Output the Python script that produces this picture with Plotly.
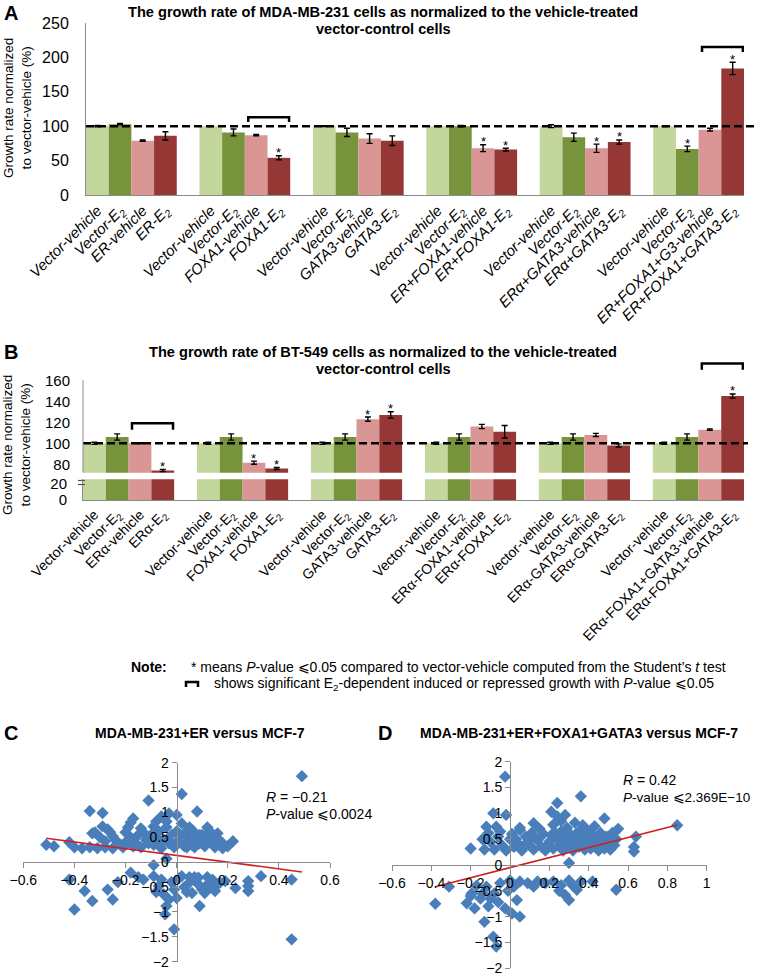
import plotly.graph_objects as go

W, H = 761, 978
FONT = "Arial, Liberation Sans, sans-serif"
AXC = "#8c8c8c"
BAR_COLORS = ["#c3d69b", "#77933c", "#d99694", "#953735"]

# ---------------- Panel A data ----------------
a_labels = [
    "Vector-vehicle", "Vector-E<sub>2</sub>", "ER-vehicle", "ER-E<sub>2</sub>",
    "Vector-vehicle", "Vector-E<sub>2</sub>", "FOXA1-vehicle", "FOXA1-E<sub>2</sub>",
    "Vector-vehicle", "Vector-E<sub>2</sub>", "GATA3-vehicle", "GATA3-E<sub>2</sub>",
    "Vector-vehicle", "Vector-E<sub>2</sub>", "ER+FOXA1-vehicle", "ER+FOXA1-E<sub>2</sub>",
    "Vector-vehicle", "Vector-E<sub>2</sub>", "ERα+GATA3-vehicle", "ERα+GATA3-E<sub>2</sub>",
    "Vector-vehicle", "Vector-E<sub>2</sub>", "ER+FOXA1+G3-vehicle", "ER+FOXA1+GATA3-E<sub>2</sub>",
]
a_values = [100, 103, 79, 86,
            100, 91, 87, 54,
            100, 91, 82, 79,
            100, 100, 68, 66,
            100, 84, 68, 77,
            100, 67, 95, 184]
a_errors = [1, 1, 1, 6,
            0.6, 5, 1, 3,
            0.6, 6, 7, 7,
            0.6, 1, 5, 2,
            2, 6, 6, 3,
            0.6, 4, 2, 9]
a_sig = [0, 0, 0, 0,
         0, 0, 0, 1,
         0, 0, 0, 0,
         0, 0, 1, 1,
         0, 0, 1, 1,
         0, 1, 0, 1]
a_bracket_groups = [1, 5]
a_bracket_levels = [113, 215]

# ---------------- Panel B data ----------------
b_labels = [
    "Vector-vehicle", "Vector-E<sub>2</sub>", "ERα-vehicle", "ERα-E<sub>2</sub>",
    "Vector-vehicle", "Vector-E<sub>2</sub>", "FOXA1-vehicle", "FOXA1-E<sub>2</sub>",
    "Vector-vehicle", "Vector-E<sub>2</sub>", "GATA3-vehicle", "GATA3-E<sub>2</sub>",
    "Vector-vehicle", "Vector-E<sub>2</sub>", "ERα-FOXA1-vehicle", "ERα-FOXA1-E<sub>2</sub>",
    "Vector-vehicle", "Vector-E<sub>2</sub>", "ERα-GATA3-vehicle", "ERα-GATA3-E<sub>2</sub>",
    "Vector-vehicle", "Vector-E<sub>2</sub>", "ERα-FOXA1+GATA3-vehicle", "ERα-FOXA1+GATA3-E<sub>2</sub>",
]
b_values = [100, 106, 100, 74,
            100, 106, 81.5, 76,
            100, 106, 123, 127,
            100, 106, 116, 111,
            100, 106, 108, 98,
            100, 106, 113, 145]
b_errors = [1, 3, 0.5, 1,
            1, 3, 1.5, 1,
            1, 3, 2, 3,
            1, 3, 2, 6,
            1, 3, 1.5, 1.5,
            1, 3, 0.7, 2]
b_sig = [0, 0, 0, 1,
         0, 0, 1, 1,
         0, 0, 1, 1,
         0, 0, 0, 0,
         0, 0, 0, 0,
         0, 0, 0, 1]
b_bracket_groups = [0, 5]
b_bracket_levels = [119, 176]

# ---------------- Panel C data ----------------
c_points = [
    (0.49, 1.73), (0.02, 1.37), (-0.11, 1.24), (-0.34, 1.03), (-0.29, 0.99), (0.08, 1.02),
    (-0.03, 0.98), (0.0, 0.95), (-0.17, 0.88), (-0.06, 0.92), (-0.08, 0.82), (0.12, 0.70),
    (-0.29, 0.72), (-0.32, 0.60), (-0.27, 0.66), (-0.18, 0.80), (-0.25, 0.52), (-0.20, 0.60),
    (-0.14, 0.68), (0.05, 0.70), (0.16, 0.58), (0.22, 0.42), (0.20, 0.32), (0.18, 0.28),
    (-0.51, 0.35), (-0.48, 0.32), (-0.42, 0.40), (-0.40, 0.30), (-0.37, 0.28), (-0.34, 0.30),
    (-0.31, 0.28), (-0.28, 0.30), (-0.25, 0.28), (-0.22, 0.35), (-0.33, 0.58), (-0.30, 0.50),
    (-0.28, 0.42), (-0.24, 0.45), (-0.20, 0.40), (-0.18, 0.50), (-0.16, 0.38), (-0.14, 0.30),
    (-0.12, 0.45), (-0.10, 0.55), (-0.09, 0.35), (-0.07, 0.62), (-0.06, 0.28), (-0.05, 0.45),
    (-0.04, 0.70), (-0.03, 0.38), (-0.02, 0.55), (-0.01, 0.30), (0.00, 0.62), (0.01, 0.42),
    (0.02, 0.78), (0.03, 0.32), (0.04, 0.52), (0.05, 0.40), (0.06, 0.65), (0.07, 0.30),
    (0.08, 0.48), (0.09, 0.38), (0.10, 0.55), (0.11, 0.32), (0.12, 0.45), (0.13, 0.62),
    (0.14, 0.40), (0.15, 0.30), (0.16, 0.48), (0.18, 0.38), (-0.13, 0.60), (-0.15, 0.55),
    (-0.11, 0.38), (-0.08, 0.50), (-0.02, 0.40), (0.03, 0.58), (0.06, 0.35), (0.09, 0.55),
    (0.11, 0.50), (-0.21, 0.30), (-0.17, 0.32), (-0.06, 0.40), (0.0, 0.35), (0.04, 0.30),
    (0.14, 0.55), (-0.26, 0.60), (-0.19, 0.70), (-0.09, 0.72), (-0.04, 0.82), (0.07, 0.58),
    (0.01, 0.50),
    (-0.09, -0.06), (-0.04, 0.07),
    (-0.42, -0.35), (-0.36, -0.58), (-0.40, -0.95), (-0.33, -0.78), (-0.27, -0.55), (-0.25, -0.75),
    (-0.23, -0.40), (-0.18, -0.21), (-0.13, -0.35), (-0.09, -0.28), (-0.07, -0.48), (-0.05, -0.65),
    (-0.04, -0.88), (-0.045, -1.05), (-0.01, -1.35), (-0.03, -0.75), (0.0, -0.72), (0.02, -0.28),
    (0.05, -0.41), (0.06, -0.62), (0.085, -0.31), (0.09, -0.88), (0.10, -0.55), (0.12, -0.45),
    (0.14, -0.35), (0.15, -0.58), (0.17, -0.41), (0.19, -0.38), (0.23, -0.52), (0.28, -0.38),
    (0.28, -0.58), (0.28, -0.48), (0.33, -0.28), (0.45, -0.35), (0.45, -1.55), (-0.02, -0.40),
    (-0.06, -0.35), (0.03, -0.50), (0.07, -0.30), (0.11, -0.62), (0.13, -0.50), (0.04, -0.60),
    (-0.08, -0.60), (-0.01, -0.55), (0.16, -0.45), (0.08, -0.42), (-0.15, -0.30), (0.01, -0.32),
    (0.05, -0.30), (0.12, -0.30),
]
c_x = [p[0] for p in c_points]
c_y = [p[1] for p in c_points]
c_trend_x = [-0.51, 0.49]
c_trend_y = [0.48, -0.195]

# ---------------- Panel D data ----------------
d_points = [
    (-0.025, 1.71), (0.36, 1.33), (0.24, 1.20), (-0.085, 1.0), (-0.02, 0.97), (-0.12, 0.74),
    (-0.07, 0.74), (0.12, 0.81), (0.21, 1.03), (0.24, 0.94), (0.28, 0.97), (0.48, 0.90),
    (0.37, 0.77), (0.85, 0.77), (0.55, 0.70), (0.64, 0.55), (-0.20, 0.32), (0.63, 0.35),
    (0.63, 0.26), (0.30, 0.04),
    (-0.13, 0.30), (-0.10, 0.45), (-0.08, 0.30), (-0.06, 0.55), (-0.04, 0.38), (-0.02, 0.28),
    (0.0, 0.50), (0.02, 0.35), (0.04, 0.42), (0.06, 0.28), (0.08, 0.55), (0.10, 0.38),
    (0.11, 0.62), (0.12, 0.30), (0.14, 0.48), (0.16, 0.35), (0.17, 0.60), (0.18, 0.28),
    (0.20, 0.45), (0.21, 0.58), (0.22, 0.32), (0.24, 0.50), (0.25, 0.38), (0.26, 0.65),
    (0.27, 0.28), (0.28, 0.45), (0.29, 0.72), (0.30, 0.35), (0.31, 0.55), (0.32, 0.28),
    (0.33, 0.48), (0.34, 0.62), (0.35, 0.35), (0.36, 0.42), (0.37, 0.55), (0.38, 0.30),
    (0.39, 0.68), (0.40, 0.45), (0.41, 0.32), (0.42, 0.58), (0.43, 0.38), (0.44, 0.50),
    (0.45, 0.28), (0.46, 0.62), (0.47, 0.40), (0.48, 0.32), (0.49, 0.55), (0.50, 0.45),
    (0.51, 0.30), (0.52, 0.62), (0.54, 0.50), (0.53, 0.38), (-0.11, 0.62), (-0.05, 0.65),
    (0.01, 0.60), (0.05, 0.68), (0.09, 0.45), (0.13, 0.52), (0.15, 0.70), (0.19, 0.38),
    (0.23, 0.62), (0.27, 0.52), (0.30, 0.62), (0.33, 0.38), (0.36, 0.68), (0.40, 0.58),
    (0.44, 0.35), (0.47, 0.55), (0.03, 0.50), (0.07, 0.35), (-0.14, 0.50), (0.22, 0.78),
    (0.33, 0.82), (0.43, 0.75), (0.26, 0.85), (0.05, 0.72),
    (-0.38, -0.75), (-0.31, -0.42), (-0.22, -0.74), (-0.195, -0.55), (-0.18, -0.84), (-0.15, -0.65),
    (-0.12, -0.42), (-0.10, -0.65), (-0.13, -1.10), (-0.085, -1.39), (-0.07, -1.58), (-0.025, -0.84),
    (0.01, -0.94), (0.05, -1.00), (0.035, -0.68), (-0.01, -0.50), (0.05, -0.32), (0.09, -0.35),
    (0.14, -0.32), (0.18, -0.35), (0.22, -0.32), (0.26, -0.39), (0.30, -0.68), (0.34, -0.48),
    (0.36, -0.32), (0.42, -0.32), (0.54, -0.48), (0.28, -0.58), (0.32, -0.40), (-0.17, -0.40),
    (-0.14, -0.55), (-0.05, -0.35), (-0.08, -0.55), (0.0, -0.30), (0.02, -0.42), (0.12, -0.42),
    (0.25, -0.50), (0.30, -0.30), (-0.20, -0.60), (-0.11, -0.80), (-0.06, -0.72),
]
d_x = [p[0] for p in d_points]
d_y = [p[1] for p in d_points]
d_trend_x = [-0.38, 0.85]
d_trend_y = [-0.42, 0.775]

# ---------------- helpers ----------------
def px(x):
    return x / W

def py(y):
    return 1 - y / H

N_GROUPS, N_BARS = 6, 4
slots = [g * (N_BARS + 1) + b for g in range(N_GROUPS) for b in range(N_BARS)]
colors = [BAR_COLORS[b] for g in range(N_GROUPS) for b in range(N_BARS)]
XR = [-0.5, N_GROUPS * (N_BARS + 1) - 1.5]

fig = go.Figure()

# Panel A bars
fig.add_trace(go.Bar(
    x=slots, y=a_values, width=1.0, marker=dict(color=colors, line=dict(width=0)),
    error_y=dict(type="data", array=a_errors, color="black", thickness=1.4, width=3),
    xaxis="x", yaxis="y", hoverinfo="skip"))

# Panel B bars (top segment with error bars, bottom segment)
fig.add_trace(go.Bar(
    x=slots, y=b_values, width=1.0, marker=dict(color=colors, line=dict(width=0)),
    error_y=dict(type="data", array=b_errors, color="black", thickness=1.4, width=3),
    xaxis="x3", yaxis="y2", hoverinfo="skip"))
fig.add_trace(go.Bar(
    x=slots, y=b_values, width=1.0, marker=dict(color=colors, line=dict(width=0)),
    xaxis="x2", yaxis="y3", hoverinfo="skip"))

# Panel C
fig.add_trace(go.Scatter(x=c_x, y=c_y, mode="markers", xaxis="x4", yaxis="y4",
                         marker=dict(symbol="diamond", size=9.5, color="#4a7ebb", line=dict(width=0))))
fig.add_trace(go.Scatter(x=c_trend_x, y=c_trend_y, mode="lines", xaxis="x4", yaxis="y4",
                         line=dict(color="#d01f1f", width=1.5)))
# Panel D
fig.add_trace(go.Scatter(x=d_x, y=d_y, mode="markers", xaxis="x5", yaxis="y5",
                         marker=dict(symbol="diamond", size=9.5, color="#4a7ebb", line=dict(width=0))))
fig.add_trace(go.Scatter(x=d_trend_x, y=d_trend_y, mode="lines", xaxis="x5", yaxis="y5",
                         line=dict(color="#d01f1f", width=1.5)))

a_tickfont = dict(family=FONT, size=15, color="black")
b_tickfont = dict(family=FONT, size=14, color="black")
s_tickfont = dict(family=FONT, size=14, color="black")

B_TOP_PX, B_TOP_BOTTOM_PX = 355, 472.7
B_PX_PER_UNIT = 1.05
b_top_range = [72, 72 + (B_TOP_BOTTOM_PX - B_TOP_PX) / B_PX_PER_UNIT]

common = dict(automargin=False, showgrid=False, zeroline=False)

fig.update_layout(
    template="none",
    width=W, height=H, margin=dict(l=0, r=0, t=0, b=0, autoexpand=False),
    paper_bgcolor="white", plot_bgcolor="white", showlegend=False,
    font=dict(family=FONT, color="black"),
    xaxis=dict(domain=[px(86), px(744)], anchor="y", range=XR, tickmode="array",
               tickvals=slots, ticktext=[f"<i>{t}</i>" for t in a_labels], tickangle=-45,
               tickfont=a_tickfont, showline=True, linecolor=AXC, linewidth=1, ticks="", **common),
    yaxis=dict(domain=[py(195), py(23)], anchor="x", range=[0, 250], tickmode="array",
               tickvals=[0, 50, 100, 150, 200, 250], tickfont=dict(family=FONT, size=16, color="black"),
               showline=True, linecolor=AXC, linewidth=1, ticks="", ticklabelstandoff=13, **common),
    xaxis2=dict(domain=[px(83), px(744)], anchor="y3", range=XR, tickmode="array",
                tickvals=slots, ticktext=b_labels, tickangle=-45, tickfont=b_tickfont,
                showline=True, linecolor=AXC, linewidth=1, ticks="", **common),
    xaxis3=dict(domain=[px(83), px(744)], anchor="y2", range=XR, visible=False, **common),
    yaxis2=dict(domain=[py(B_TOP_BOTTOM_PX), py(B_TOP_PX)], anchor="x3", range=b_top_range,
                tickmode="array", tickvals=[80, 100, 120, 140, 160],
                tickfont=dict(family=FONT, size=15, color="black"),
                showline=False, ticks="", ticklabelstandoff=12, **common),
    yaxis3=dict(domain=[py(500), py(479.3)], anchor="x2", range=[0, 25], tickmode="array",
                tickvals=[0, 20], tickfont=dict(family=FONT, size=15, color="black"),
                showline=True, linecolor=AXC, ticks="", ticklabelstandoff=12, **common),
    xaxis4=dict(domain=[px(23.3), px(330)], range=[-0.6, 0.6], anchor="free", position=py(862),
                tickmode="array", tickvals=[-0.6, -0.4, -0.2, 0, 0.2, 0.4, 0.6],
                tickfont=s_tickfont, showline=True, linecolor=AXC, ticks="outside", ticklen=5,
                tickcolor=AXC, **common),
    yaxis4=dict(domain=[py(961.7), py(762.7)], range=[-2, 2], anchor="free", position=px(176.7),
                tickmode="array", tickvals=[-2, -1.5, -1, -0.5, 0, 0.5, 1, 1.5, 2],
                tickfont=s_tickfont, showline=True, linecolor=AXC, ticks="outside", ticklen=5,
                tickcolor=AXC, **common),
    xaxis5=dict(domain=[px(392), px(706.7)], range=[-0.6, 1], anchor="free", position=py(865),
                tickmode="array", tickvals=[-0.6, -0.4, -0.2, 0, 0.2, 0.4, 0.6, 0.8, 1],
                tickfont=s_tickfont, showline=True, linecolor=AXC, ticks="outside", ticklen=5,
                tickcolor=AXC, **common),
    yaxis5=dict(domain=[py(968.3), py(761.7)], range=[-2, 2], anchor="free", position=px(510),
                tickmode="array", tickvals=[-2, -1.5, -1, -0.5, 0, 0.5, 1, 1.5, 2],
                tickfont=s_tickfont, showline=True, linecolor=AXC, ticks="outside", ticklen=5,
                tickcolor=AXC, **common),
)

shapes = []
# dashed reference lines at 100
shapes.append(dict(type="line", xref="paper", yref="y", x0=px(86), x1=px(757), y0=100, y1=100,
                   line=dict(color="black", width=2.5, dash="8px,4px")))
shapes.append(dict(type="line", xref="paper", yref="y2", x0=px(83), x1=px(748), y0=100, y1=100,
                   line=dict(color="black", width=2.5, dash="8px,4px")))
# B top axis line
shapes.append(dict(type="line", xref="paper", yref="y2", x0=px(83), x1=px(83), y0=72, y1=160,
                   line=dict(color=AXC, width=1)))
# axis break marks
for yy in (480.5, 484.5):
    shapes.append(dict(type="line", xref="paper", yref="paper", x0=px(78), x1=px(85),
                       y0=py(yy), y1=py(yy), line=dict(color="#555", width=1.2)))

# brackets
def bracket(xref, yref, g, level, leg):
    x0 = g * (N_BARS + 1) + 1.65
    x1 = g * (N_BARS + 1) + 3.45
    return dict(type="path", xref=xref, yref=yref,
                path=f"M {x0},{level - leg} L {x0},{level} L {x1},{level} L {x1},{level - leg}",
                line=dict(color="black", width=2.5))

for g, lv in zip(a_bracket_groups, a_bracket_levels):
    shapes.append(bracket("x", "y", g, lv, 7))
for g, lv in zip(b_bracket_groups, b_bracket_levels):
    shapes.append(bracket("x3", "y2", g, lv, 6))

# note bracket glyph
shapes.append(dict(type="path", xref="paper", yref="paper",
                   path=f"M {px(186)},{py(687)} L {px(186)},{py(682)} L {px(198)},{py(682)} L {px(198)},{py(687)}",
                   line=dict(color="black", width=2.5)))
fig.update_layout(shapes=shapes)

ann = []
# stars
for i, s in enumerate(a_sig):
    if s:
        ann.append(dict(x=slots[i], y=a_values[i] + a_errors[i], xref="x", yref="y", text="*",
                        showarrow=False, yanchor="middle", yshift=3,
                        font=dict(family=FONT, size=13, color="black")))
for i, s in enumerate(b_sig):
    if s:
        ann.append(dict(x=slots[i], y=b_values[i] + b_errors[i], xref="x3", yref="y2", text="*",
                        showarrow=False, yanchor="middle", yshift=3,
                        font=dict(family=FONT, size=13, color="black")))

def txt(x, y, text, size=13, bold=False, xanchor="center", angle=0, yanchor="middle"):
    t = f"<b>{text}</b>" if bold else text
    ann.append(dict(x=px(x), y=py(y), xref="paper", yref="paper", text=t, showarrow=False,
                    xanchor=xanchor, yanchor=yanchor, textangle=angle,
                    font=dict(family=FONT, size=size, color="black")))

txt(2, 13, "A", 20, True, "left")
txt(383, 12, "The growth rate of MDA-MB-231 cells as normalized to the vehicle-treated", 14.6, True)
txt(383, 29, "vector-control cells", 14.6, True)
txt(17, 108, "Growth rate normalized<br>to vector-vehicle (%)", 13.5, False, "center", -90)

txt(2, 352, "B", 20, True, "left")
txt(383, 352, "The growth rate of BT-549 cells as normalized to the vehicle-treated", 14.6, True)
txt(383, 369, "vector-control cells", 14.6, True)
txt(17, 445, "Growth rate normalized<br>to vector-vehicle (%)", 13.5, False, "center", -90)

txt(129, 667, "Note:", 14, True, "left")
txt(189, 667, "* means <i>P</i>-value ⩽0.05 compared to vector-vehicle computed from the Student’s <i>t</i> test", 14, False, "left")
txt(212, 684, "shows significant E<sub>2</sub>-dependent induced or repressed growth with <i>P</i>-value ⩽0.05", 14, False, "left")

txt(2, 733, "C", 20, True, "left")
txt(200, 733, "MDA-MB-231+ER versus MCF-7", 14, True)
txt(376, 733, "D", 20, True, "left")
txt(579, 733, "MDA-MB-231+ER+FOXA1+GATA3 versus MCF-7", 14, True)

txt(264, 797, "<i>R</i> = −0.21", 14, False, "left")
txt(264, 814, "<i>P</i>-value ⩽0.0024", 14, False, "left")
txt(621, 780, "<i>R</i> = 0.42", 14, False, "left")
txt(621, 797, "<i>P</i>-value ⩽2.369E−10", 13.5, False, "left")

fig.update_layout(annotations=ann)
fig.write_html("out.html", config={"displayModeBar": False},
               post_script="document.body.style.margin='0px';")
